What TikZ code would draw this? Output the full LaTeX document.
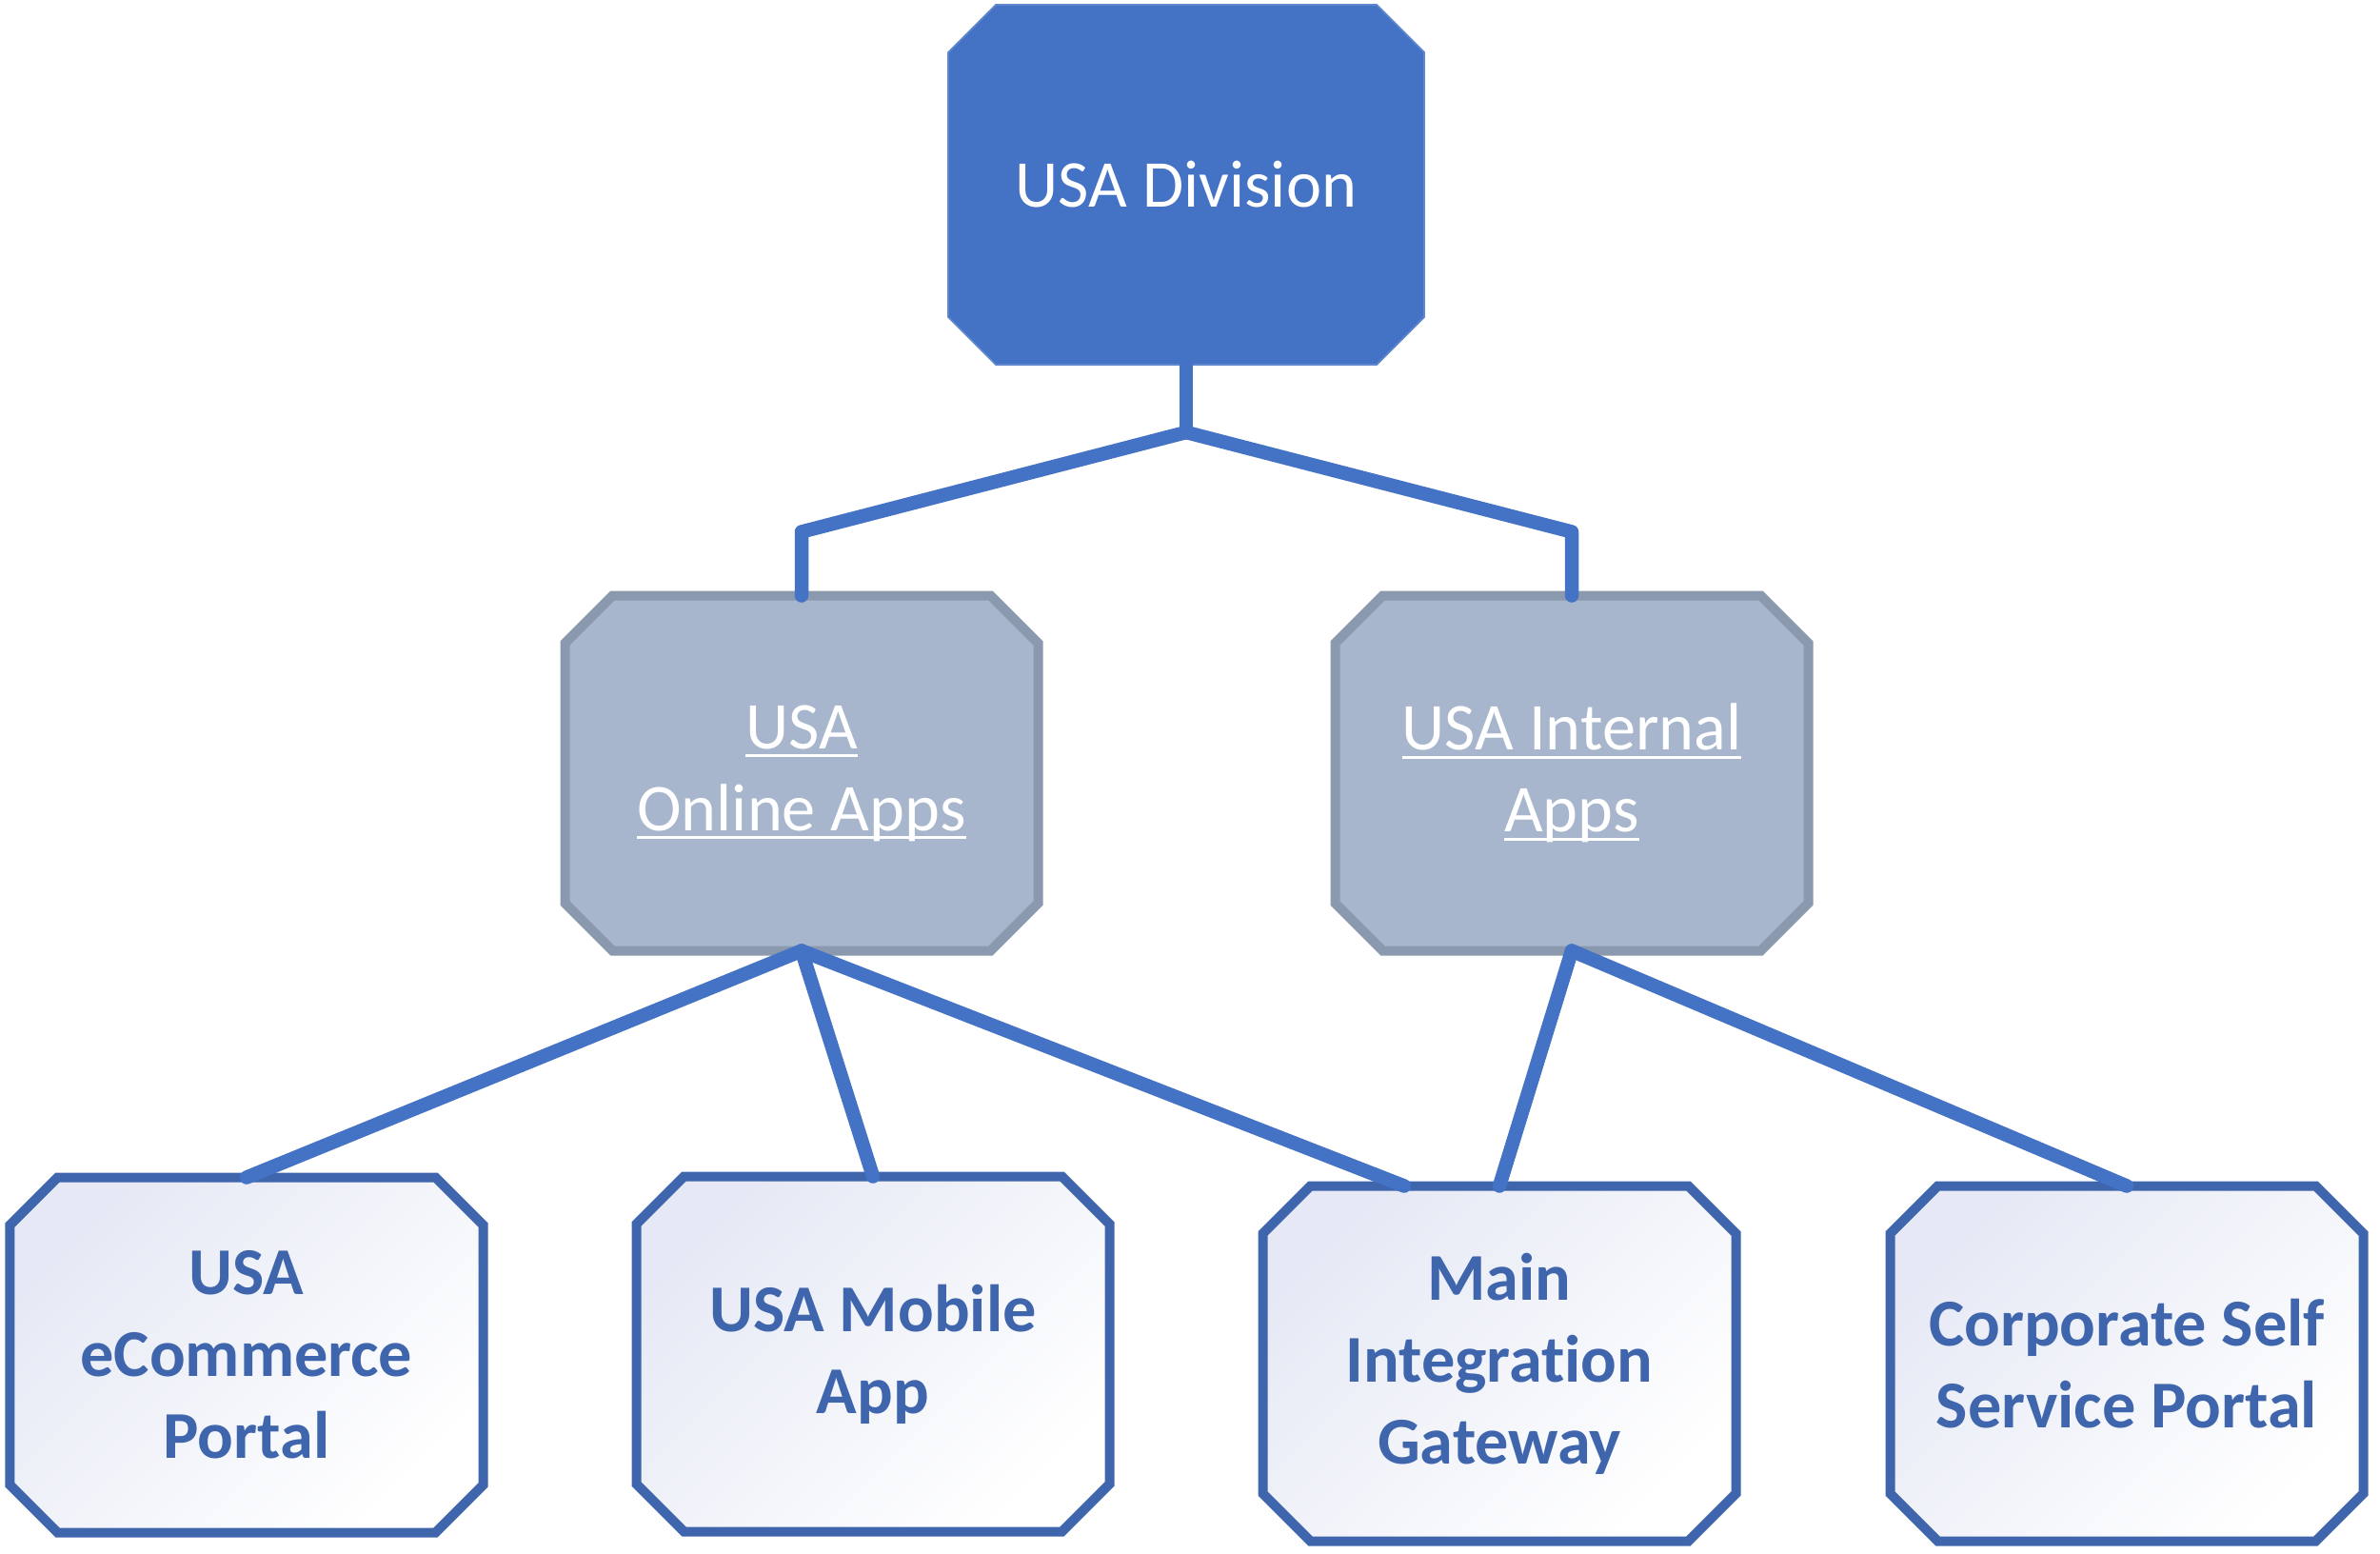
\documentclass[tikz,border=0pt]{standalone}
\usepackage{fontspec}
\setmainfont[Ligatures=NoCommon]{Carlito}
\usetikzlibrary{calc,backgrounds}
\definecolor{mainblue}{HTML}{4472C4}
\definecolor{midfill}{HTML}{A7B6CD}
\definecolor{midborder}{HTML}{8A99AD}
\definecolor{leafborder}{HTML}{3F65AD}
\definecolor{leaftop}{HTML}{E6E9F5}
\newcommand\myul[1]{\setbox0\hbox{#1}\rlap{\rule[-2.6pt]{\wd0}{0.95pt}}\box0}
\newcommand\octa[2]{%
  \path[#2] ($(#1.north west)+(0.5,0)$) -- ($(#1.north east)+(-0.5,0)$)
    -- ($(#1.north east)+(0,-0.5)$) -- ($(#1.south east)+(0,0.5)$)
    -- ($(#1.south east)+(-0.5,0)$) -- ($(#1.south west)+(0.5,0)$)
    -- ($(#1.south west)+(0,0.5)$) -- ($(#1.north west)+(0,-0.5)$) -- cycle;}
\tikzset{
  box/.style={rectangle, draw=none, inner sep=0pt, outer sep=0pt, align=center,
    minimum width=4.97cm, minimum height=3.73cm,
    font=\fontsize{20}{24.5}\selectfont},
  topbox/.style={box, text=white, minimum width=5.0cm, minimum height=3.78cm},
  midbox/.style={box, text=white},
  leafbox/.style={box, text=leafborder, font=\fontsize{20}{24.5}\selectfont\bfseries},
  topshape/.style={fill=mainblue, draw=mainblue!85!white, line width=0.5pt},
  midshape/.style={fill=midfill, draw=midborder, line width=0.1cm, line join=miter},
  leafshape/.style={draw=leafborder, line width=0.1cm, top color=leaftop, middle color=white!97!leaftop, bottom color=white, shading angle=45},
  link/.style={draw=mainblue, line width=0.145cm, line cap=round, line join=round}
}
\begin{document}
\begin{tikzpicture}
\useasboundingbox (0,0) rectangle (25,-16.31);
\node[topbox] (top) at (12.46,-1.94) {USA Division};
\node[midbox] (midL) at (8.42,-8.12) {\myul{USA}\\\myul{Online Apps}};
\node[midbox] (midR) at (16.51,-8.12) {\myul{USA Internal}\\\myul{Apps}};
\node[leafbox] (b1) at (2.59,-14.23) {USA\\eCommerce\\Portal};
\node[leafbox] (b2) at (9.17,-14.22) {USA Mobile\\App};
\node[leafbox] (b3) at (15.75,-14.32) {Main\\Integration\\Gateway};
\node[leafbox] (b4) at (22.34,-14.32) {Corporate Self\\Service Portal};
\begin{scope}[on background layer]
  \octa{top}{topshape}
  \octa{midL}{midshape}
  \octa{midR}{midshape}
  \octa{b1}{leafshape}
  \octa{b2}{leafshape}
  \octa{b3}{leafshape}
  \octa{b4}{leafshape}
\end{scope}
\coordinate (J) at (12.46,-4.54);
\draw[link] (top.south) -- (J);
\draw[link] (J) -- ($(midL.north)+(0,0.67)$) -- (midL.north);
\draw[link] (J) -- ($(midR.north)+(0,0.67)$) -- (midR.north);
\draw[link] (midL.south) -- (b1.north);
\draw[link] (midL.south) -- (b2.north);
\draw[link] (midL.south) -- ($(b3.north)+(-1.0,0)$);
\draw[link] (midR.south) -- (b3.north);
\draw[link] (midR.south) -- (b4.north);
\end{tikzpicture}
\end{document}
